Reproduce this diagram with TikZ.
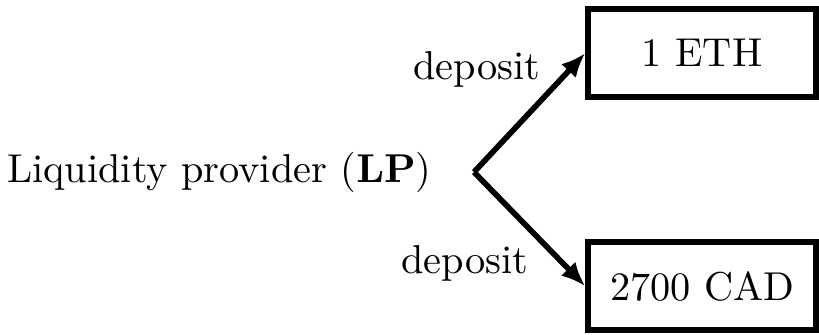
\documentclass[tikz,border=0pt]{standalone}
\usepackage{amsmath}
\usetikzlibrary{positioning,arrows.meta}

\begin{document}
\begin{tikzpicture}[x=1pt,y=1pt]
  \useasboundingbox (-117.6,-40.4) rectangle (85.6,42.7);
  \tikzset{
    asset/.style={draw, line width=1.5pt, minimum width=56.5pt, minimum height=21.8pt},
    depo/.style={line width=1.4pt, -{Latex[length=6pt,width=5pt]}}
  }
  % Punt on es separen les fletxes
  \coordinate (split) at (0,0);
  \node[left=7pt of split] (lp) {Liquidity provider ($\mathbf{LP}$)};
  % Actius dipositats
  \node[asset] (eth) at (56.6,29.5)  {1 ETH};
  \node[asset] (cad) at (56.6,-28.3) {2700 CAD};
  \draw[depo] (split) -- (eth.west) node[pos=0.86, left=3.3pt] {deposit};
  \draw[depo] (split) -- (cad.west) node[pos=0.8, left=4.6pt] {deposit};
\end{tikzpicture}
\end{document}
